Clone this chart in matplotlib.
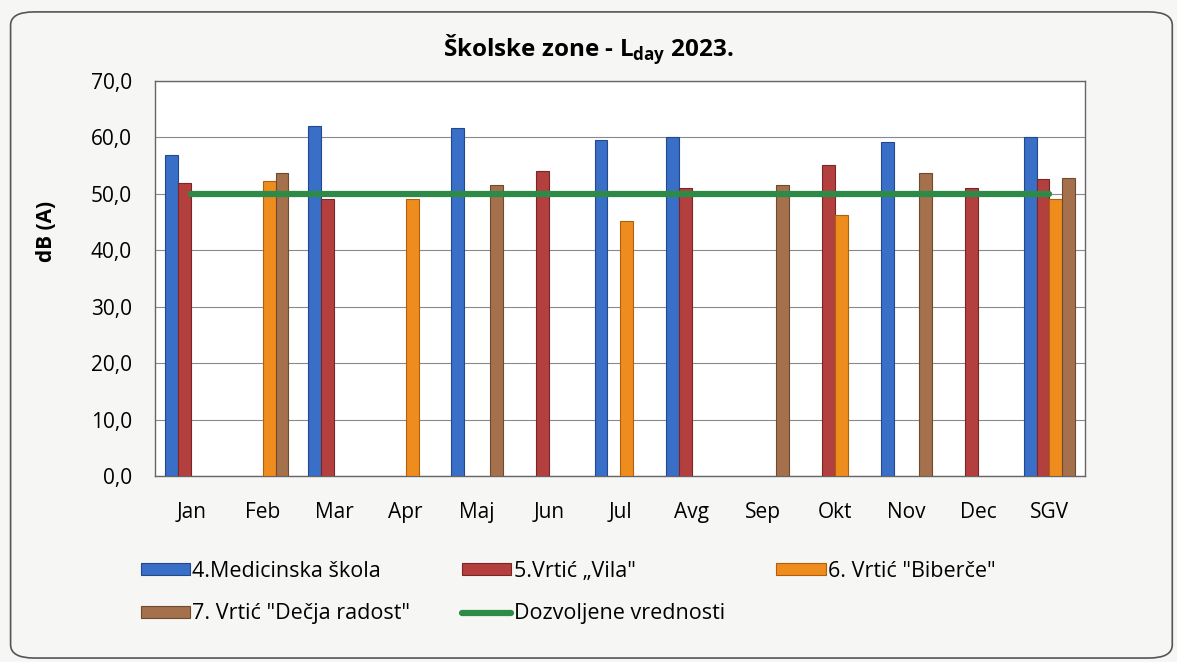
import matplotlib.pyplot as plt
import numpy as np
from matplotlib.patches import FancyBboxPatch

plt.rcParams['font.family'] = ['Open Sans', 'DejaVu Sans']

months = ['Jan', 'Feb', 'Mar', 'Apr', 'Maj', 'Jun', 'Jul', 'Avg', 'Sep', 'Okt', 'Nov', 'Dec', 'SGV']

medicinska = [56.9, np.nan, 61.9, np.nan, 61.7, np.nan, 59.5, 60.1, np.nan, np.nan, 59.1, np.nan, 60.1]
vila = [51.9, np.nan, 49.1, np.nan, np.nan, 54.0, np.nan, 51.0, np.nan, 55.0, np.nan, 51.0, 52.6]
biberce = [np.nan, 52.3, np.nan, 49.1, np.nan, np.nan, 45.1, np.nan, np.nan, 46.2, np.nan, np.nan, 49.1]
decja = [np.nan, 53.6, np.nan, np.nan, 51.5, np.nan, np.nan, np.nan, 51.5, np.nan, 53.6, np.nan, 52.7]
dozvoljene = [50.0] * len(months)

series = [
    ('4.Medicinska škola', medicinska, '#3a6fc8', '#22488e'),
    ('5.Vrtić „Vila"', vila, '#b3403f', '#7a2626'),
    ('6. Vrtić "Biberče"', biberce, '#ef8c1e', '#b0600c'),
    ('7. Vrtić "Dečja radost"', decja, '#a4714c', '#6e4a2e'),
]

fig = plt.figure(figsize=(11.77, 6.62), dpi=100)
fig.patch.set_facecolor('#f6f6f4')
frame = FancyBboxPatch((0.009, 0.006), 0.987, 0.976, boxstyle='round,pad=0,rounding_size=0.02',
                       transform=fig.transFigure, facecolor='none', edgecolor='#555555', lw=1.2)
fig.patches.append(frame)

ax = fig.add_axes([0.132, 0.281, 0.790, 0.597])
ax.set_facecolor('white')

x = np.arange(len(months))
w = 0.18
handles = {}
for i, (name, vals, col, edge) in enumerate(series):
    b = ax.bar(x + (i - 1.5) * w, vals, w, color=col, edgecolor=edge, linewidth=0.8,
               label=name, zorder=3)
    handles[name] = b

line, = ax.plot(x, dozvoljene, color='#2e8b47', lw=4.5, solid_capstyle='round',
                label='Dozvoljene vrednosti', zorder=4)

ax.set_xlim(-0.5, len(months) - 0.5)
ax.set_ylim(0, 70)
ax.set_yticks(np.arange(0, 71, 10))
ax.set_yticklabels([('%.1f' % v).replace('.', ',') for v in np.arange(0, 71, 10)], fontsize=15)
ax.set_xticks(x)
ax.set_xticklabels(months, fontsize=15)
ax.tick_params(axis='y', length=0, pad=17)
ax.tick_params(axis='x', length=0, pad=19)
ax.yaxis.grid(True, color='#8a8a8a', lw=0.8, zorder=0)
for s in ax.spines.values():
    s.set_color('#666666')
    s.set_linewidth(1)

ax.set_ylabel('dB (A)', fontsize=15, fontweight='bold')
ax.yaxis.set_label_coords(-0.106, 0.62)
fig.text(0.5, 0.925, r'Školske zone - L$_{\mathregular{day}}$ 2023.', ha='center', va='center',
         fontsize=17.5, fontweight='bold')

order = [handles['4.Medicinska škola'], handles['7. Vrtić "Dečja radost"'],
         handles['5.Vrtić „Vila"'], line, handles['6. Vrtić "Biberče"']]
labels = ['4.Medicinska škola', '7. Vrtić "Dečja radost"', '5.Vrtić „Vila"',
          'Dozvoljene vrednosti', '6. Vrtić "Biberče"']
fig.legend(order, labels, ncol=3, loc='upper left', bbox_to_anchor=(0.103, 0.182),
           frameon=False, fontsize=15.5, handlelength=2.3, handleheight=0.45,
           handletextpad=0.1, columnspacing=2.4, labelspacing=1.0)

fig.savefig('out.png', dpi=100, facecolor=fig.get_facecolor())
